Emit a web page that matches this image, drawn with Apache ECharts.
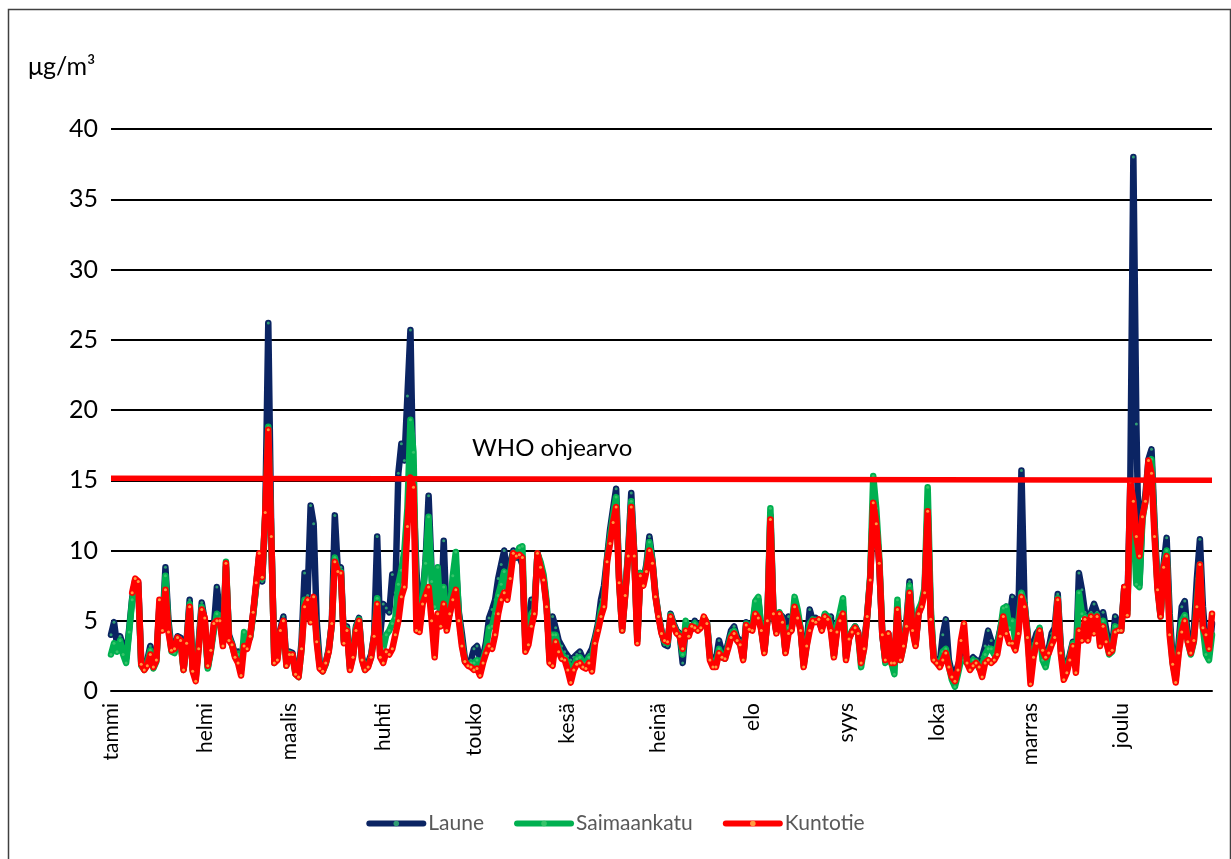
<!DOCTYPE html>
<html>
<head>
<meta charset="utf-8">
<script src="https://cdn.jsdelivr.net/npm/echarts@6/dist/echarts.min.js"></script>
<style>
html,body{margin:0;padding:0;background:#fff;}
#chart{width:1231px;height:859px;}
</style>
</head>
<body>
<div id="chart"></div>
<script>
// ---- tick labels / categories ----
const monthNames = ['tammi','helmi','maalis','huhti','touko','kesä','heinä','elo','syys','loka','marras','joulu'];
const monthStartDays = [0,31,59,90,120,151,181,212,243,273,304,334];
const dayCount = 365;
const yTicks = {min:0, max:40, step:5};
const seriesNames = ['Laune','Saimaankatu','Kuntotie'];
const whoLabel = 'WHO ohjearvo';
const whoLine = [15.15, 15.0];   // WHO guideline at start and end of year

// ---- daily values (µg/m3) ----
const laune = [
4.0,4.9,3.3,3.9,3.2,2.3,4.4,6.6,7.9,7.7,
2.0,1.7,2.2,3.2,1.8,2.3,6.1,4.6,8.8,5.0,
3.0,2.9,3.9,3.8,1.6,3.6,6.5,1.6,1.0,3.5,
6.3,5.0,1.7,3.0,4.5,7.4,5.5,3.5,8.8,4.0,
3.4,2.6,2.8,1.8,3.6,3.3,3.9,5.5,7.5,9.6,
7.8,12.5,26.2,11.0,2.3,2.6,4.4,5.3,2.0,2.8,
2.7,1.4,1.2,3.5,8.4,6.8,13.2,11.9,5.0,2.0,
1.6,2.0,3.0,4.8,12.5,8.6,8.8,3.6,4.6,1.8,
2.6,4.6,5.2,2.4,1.6,2.0,2.6,4.0,11.0,4.0,
6.2,5.9,5.6,8.3,7.0,15.5,17.6,16.4,21.0,25.7,
14.0,8.5,5.0,6.6,9.3,13.9,8.5,6.3,7.8,5.0,
10.7,5.0,5.5,7.5,9.0,5.6,4.1,2.3,2.0,2.2,
3.0,3.2,2.3,2.4,3.5,5.2,5.8,6.5,8.0,9.0,
10.0,8.2,9.0,10.0,9.5,9.6,9.0,3.5,4.5,6.5,
6.0,9.8,9.0,8.0,6.2,2.5,5.3,4.5,3.6,3.2,
2.8,2.5,2.2,2.4,2.6,2.8,2.3,2.2,2.6,3.0,
3.8,4.8,6.5,7.5,9.5,11.5,13.0,14.4,8.0,4.5,
7.0,10.0,14.1,9.8,3.8,8.4,7.9,9.0,11.0,9.3,
6.9,5.4,4.3,3.3,3.2,5.5,4.8,4.3,4.1,2.0,
4.6,4.2,4.4,5.0,4.6,4.8,5.0,4.9,2.6,2.0,
2.2,3.6,2.8,2.6,3.4,4.3,4.6,3.8,3.6,2.4,
4.9,4.6,4.5,6.0,6.5,4.4,2.9,5.0,12.5,5.6,
4.2,5.5,5.3,2.8,5.3,4.4,6.2,5.5,4.4,2.0,
3.4,5.8,5.0,5.2,5.0,4.4,5.4,5.2,5.3,2.6,
4.4,5.0,6.0,2.5,3.8,4.2,4.6,4.2,2.2,3.3,
5.4,8.0,13.4,12.0,9.0,4.0,2.2,4.1,2.2,2.0,
5.8,2.4,3.4,5.0,7.8,4.6,3.4,5.5,6.2,7.2,
13.0,5.5,2.4,2.2,2.0,4.0,5.1,2.2,1.3,1.2,
1.8,2.5,2.4,2.2,2.2,2.4,2.2,2.0,2.4,3.2,
4.3,3.6,2.8,3.4,4.4,5.5,6.0,5.0,6.7,4.2,
5.5,15.7,6.3,4.2,1.8,3.4,4.1,4.4,3.0,2.5,
3.0,4.1,4.5,6.9,3.2,1.5,1.7,2.6,3.5,2.0,
8.4,7.2,5.6,4.4,5.6,6.2,5.6,3.8,5.6,4.4,
3.0,3.2,5.3,4.6,4.5,7.4,5.8,15.0,38.0,19.0,
7.6,12.6,14.0,16.5,17.2,12.0,7.6,5.4,9.0,10.9,
5.5,2.2,1.0,3.5,6.0,6.4,3.8,3.0,4.3,8.0,
10.8,6.0,3.4,2.6,4.8
];
const saimaankatu = [
2.6,3.4,2.8,3.6,2.6,2.0,4.2,6.5,7.6,7.4,
1.8,1.5,2.0,2.9,1.6,2.1,5.9,4.4,8.2,4.6,
2.8,2.7,3.6,3.5,1.5,3.4,6.2,1.5,0.9,3.3,
6.0,4.8,1.6,2.8,4.3,5.5,5.2,3.4,9.2,3.8,
3.3,2.5,2.6,1.5,4.2,3.5,3.8,5.4,7.5,9.6,
8.0,12.6,18.8,11.0,2.0,2.3,4.0,4.8,1.8,2.7,
2.5,1.2,1.0,3.0,6.5,6.5,5.3,6.5,3.8,1.8,
1.4,1.9,2.9,4.7,9.5,8.4,8.5,3.5,4.4,1.6,
2.5,4.5,5.1,2.3,1.5,1.8,2.4,3.9,6.6,2.8,
3.0,4.0,4.3,4.8,5.2,7.6,8.6,10.0,13.0,19.3,
17.0,6.0,4.5,6.4,9.1,12.4,7.8,6.0,8.8,5.2,
7.4,4.8,5.6,8.2,9.9,5.4,3.5,2.1,1.9,2.0,
2.0,2.2,1.6,2.2,3.0,4.5,4.6,5.5,6.8,7.6,
8.5,7.0,8.5,9.8,9.6,10.2,10.3,3.3,4.0,5.5,
5.8,9.8,9.2,8.3,6.4,2.2,4.0,4.0,3.0,2.6,
2.4,2.0,1.5,1.8,2.3,2.4,2.0,2.0,2.4,2.4,
3.6,4.5,5.8,6.5,9.3,11.0,12.5,13.8,7.9,4.3,
6.9,9.8,13.5,9.7,3.6,8.4,7.8,8.8,10.6,9.2,
6.8,5.4,4.2,3.5,3.4,5.4,4.7,4.2,4.0,2.6,
5.0,4.3,4.6,4.8,4.4,4.6,5.2,4.9,2.4,1.9,
1.9,3.0,2.4,2.3,3.2,4.0,4.3,3.6,3.4,2.3,
4.8,4.5,4.5,6.4,6.7,4.4,2.8,5.1,13.0,5.6,
4.2,5.6,5.0,2.8,4.5,4.4,6.7,5.8,4.4,1.8,
3.3,4.8,5.1,5.0,5.0,4.5,5.5,5.3,4.6,2.5,
4.6,5.6,6.6,2.4,3.8,4.3,4.6,4.1,1.7,3.2,
5.3,8.2,15.3,13.0,9.5,4.2,2.0,4.0,2.0,1.2,
6.5,2.2,3.2,4.8,7.5,4.5,3.3,5.8,6.3,7.4,
14.5,6.0,2.3,2.0,1.8,2.8,3.0,1.8,0.8,0.3,
1.2,2.2,2.2,2.0,1.8,2.2,2.1,1.6,1.8,2.6,
3.0,3.0,2.6,3.2,4.3,5.9,6.0,4.5,5.0,3.5,
5.0,7.0,6.2,4.0,1.2,2.8,3.6,4.5,2.2,1.7,
2.8,3.5,4.0,6.6,3.0,1.2,1.5,2.4,3.4,1.8,
7.0,5.5,5.3,4.0,5.4,4.8,5.4,3.4,5.0,3.8,
2.6,2.8,4.6,4.4,4.3,7.2,5.5,13.5,12.0,7.6,
7.4,12.2,13.5,16.0,16.5,11.5,7.4,5.3,8.8,10.0,
4.6,2.0,0.9,3.0,5.0,5.4,3.5,2.6,3.5,6.5,
9.0,4.5,2.6,2.2,4.0
];
const kuntotie = [
null,null,null,null,null,null,null,7.0,8.0,7.8,
1.9,1.5,1.8,2.6,1.7,2.2,6.5,4.3,7.2,4.2,
2.9,3.0,3.8,3.6,1.5,3.4,6.0,1.4,0.7,3.0,
5.8,5.2,1.8,2.9,4.8,5.0,5.0,3.2,9.1,3.6,
3.3,2.4,2.0,1.1,3.2,3.0,3.9,5.6,7.7,9.8,
8.1,12.7,18.6,11.0,2.0,2.2,4.3,5.0,1.8,2.6,
2.6,1.2,1.0,3.0,6.0,6.5,4.9,6.7,3.5,1.6,
1.4,2.0,2.8,4.8,9.2,8.5,8.4,3.4,4.3,1.5,
2.4,4.3,5.0,2.2,1.5,1.7,2.4,3.9,6.2,2.4,
2.0,2.8,2.6,3.0,4.0,5.0,6.7,7.4,11.7,15.2,
14.5,4.3,4.2,6.2,6.8,7.4,5.0,2.4,5.5,4.6,
6.2,4.3,5.5,6.5,7.2,5.0,3.2,2.1,1.8,1.7,
1.5,1.6,1.1,2.0,2.7,3.2,3.0,4.0,5.5,6.5,
7.0,6.5,8.0,9.8,9.6,9.7,9.5,2.8,3.3,4.6,
5.5,9.8,8.8,7.9,6.0,2.0,1.8,3.5,2.8,2.3,
2.2,1.5,0.6,1.5,1.9,2.0,1.7,1.6,2.0,1.4,
3.4,4.3,5.3,6.0,9.2,10.5,12.0,13.1,7.7,4.3,
6.8,9.6,13.1,9.6,3.4,8.2,7.5,8.5,10.0,9.1,
6.7,5.3,4.1,3.6,3.5,5.3,4.6,4.1,3.9,3.0,
4.3,3.9,4.6,4.5,4.3,4.5,5.3,4.8,2.2,1.7,
1.7,2.7,2.4,2.3,3.0,3.8,4.1,3.6,3.3,2.2,
4.7,4.4,4.3,5.5,5.2,4.3,2.7,5.0,12.2,5.5,
4.1,5.5,4.9,2.7,4.1,4.3,6.0,5.2,4.3,1.7,
3.2,4.3,5.0,4.9,5.1,4.3,5.3,5.1,4.3,2.4,
4.2,5.0,5.5,2.2,3.7,4.2,4.5,4.1,2.0,3.0,
5.3,7.9,13.4,11.9,9.1,4.0,2.2,4.1,2.0,2.0,
5.8,2.2,3.2,4.6,7.0,4.3,3.2,5.5,6.0,7.0,
12.8,5.1,2.2,2.0,1.7,2.2,2.7,1.7,1.0,0.7,
1.5,3.6,4.8,2.0,1.5,1.8,2.0,1.7,1.0,2.0,
2.2,2.0,2.2,2.6,3.9,5.3,4.1,3.4,3.4,2.9,
4.1,6.7,6.0,3.8,0.5,2.4,3.4,4.3,2.9,2.4,
2.7,3.3,3.8,6.5,2.7,0.8,1.3,2.2,3.2,1.3,
4.3,3.6,5.1,3.6,5.3,4.1,5.3,3.2,4.6,3.5,
2.7,2.9,4.2,4.3,4.3,7.4,5.4,14.9,13.5,11.0,
9.6,12.4,13.5,16.4,15.5,11.0,7.2,5.3,8.8,9.6,
4.0,1.9,0.6,2.7,4.2,5.0,3.5,2.7,3.6,6.0,
9.0,4.5,4.0,3.0,5.5
];

// ---- build chart ----
const categories = [];
for (let i = 0; i < dayCount; i++) categories.push(i);
const lineColors = ['#0b2463', '#00b050', '#ff0000'];
const markerColors = ['#2f9c73', '#35c46a', '#ff9a40'];
const values = [laune, saimaankatu, kuntotie];
const FONT = 'Lato, "Open Sans", sans-serif';

const chart = echarts.init(document.getElementById('chart'), null, {renderer: 'canvas'});
const series = seriesNames.map((name, i) => ({
  name: name,
  type: 'line',
  data: values[i],
  symbol: 'circle',
  symbolSize: 3,
  showSymbol: true,
  showAllSymbol: true,
  connectNulls: false,
  lineStyle: {color: lineColors[i], width: 6.5, join: 'round', cap: 'round'},
  itemStyle: {color: markerColors[i], borderWidth: 0},
  emphasis: {disabled: true},
  z: 3 + i
}));
series.push({
  name: 'WHO',
  type: 'line',
  data: [[0, whoLine[0]], [dayCount - 1, whoLine[1]]],
  symbol: 'none',
  lineStyle: {color: '#ff0000', width: 5.5},
  z: 10,
  silent: true
});

chart.setOption({
  animation: false,
  backgroundColor: '#ffffff',
  textStyle: {fontFamily: FONT},
  grid: {left: 111, right: 19, top: 129, bottom: 168, containLabel: false},
  legend: {
    data: seriesNames.map((n, i) => ({name: n, itemStyle: {color: markerColors[i]}, lineStyle: {color: lineColors[i], width: 6}})),
    bottom: 20,
    left: 'center',
    itemWidth: 54,
    itemHeight: 7,
    itemGap: 30,
    textStyle: {fontSize: 21, color: '#595959', fontFamily: FONT}
  },
  xAxis: {
    type: 'category',
    data: categories,
    boundaryGap: false,
    axisLine: {show: true, lineStyle: {color: '#000', width: 2}},
    axisTick: {show: false},
    splitLine: {show: false},
    axisLabel: {
      interval: (index) => monthStartDays.indexOf(index) >= 0,
      formatter: (value, index) => {
        const k = monthStartDays.indexOf(Number(value));
        return k >= 0 ? monthNames[k] : '';
      },
      rotate: 90,
      margin: 12,
      fontSize: 21,
      color: '#000',
      hideOverlap: false,
      fontFamily: FONT
    }
  },
  yAxis: {
    type: 'value',
    min: yTicks.min,
    max: yTicks.max,
    interval: yTicks.step,
    axisLine: {show: false},
    axisTick: {show: false},
    splitLine: {show: true, lineStyle: {color: '#000', width: 2}},
    axisLabel: {fontSize: 25, color: '#000', margin: 13, fontFamily: FONT}
  },
  graphic: [
    {type: 'rect', left: 6, top: 7, shape: {width: 1222, height: 860}, style: {fill: 'none', stroke: '#404040', lineWidth: 1.5}, z: 0},
    {type: 'text', left: 28, top: 54, style: {text: 'μg/m³', fontSize: 25, fill: '#000', fontFamily: FONT}},
    {type: 'text', left: 472, top: 436, style: {text: whoLabel, fontSize: 24, fill: '#000', fontFamily: FONT}, z: 20}
  ],
  series: series
});
</script>
</body>
</html>
